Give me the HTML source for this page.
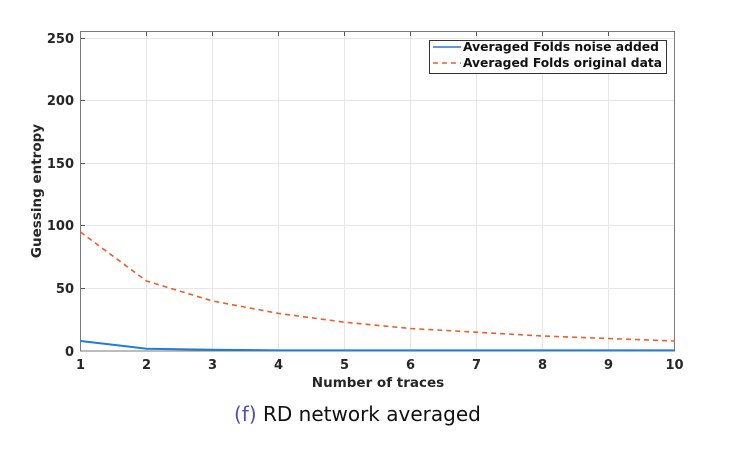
<!DOCTYPE html>
<html><head><meta charset="utf-8"><style>
html,body{margin:0;padding:0;background:#fff;}
svg{display:block;}
</style></head><body>
<svg width="729" height="455" xmlns="http://www.w3.org/2000/svg" font-family="'DejaVu Sans','Liberation Sans',sans-serif">
<rect width="729" height="455" fill="#fff"/>
<g stroke="#e6e6e6" stroke-width="1">
<line x1="146.5" y1="31" x2="146.5" y2="351"/><line x1="212.5" y1="31" x2="212.5" y2="351"/>
<line x1="278.5" y1="31" x2="278.5" y2="351"/><line x1="344.5" y1="31" x2="344.5" y2="351"/>
<line x1="410.5" y1="31" x2="410.5" y2="351"/><line x1="476.5" y1="31" x2="476.5" y2="351"/>
<line x1="542.5" y1="31" x2="542.5" y2="351"/><line x1="608.5" y1="31" x2="608.5" y2="351"/>
<line x1="80.5" y1="38.5" x2="675" y2="38.5"/><line x1="80.5" y1="100.5" x2="675" y2="100.5"/>
<line x1="80.5" y1="163.5" x2="675" y2="163.5"/><line x1="80.5" y1="225.5" x2="675" y2="225.5"/>
<line x1="80.5" y1="288.5" x2="675" y2="288.5"/>
</g>
<g stroke="#555" stroke-width="1">
<line x1="146.5" y1="31" x2="146.5" y2="36"/><line x1="212.5" y1="31" x2="212.5" y2="36"/>
<line x1="278.5" y1="31" x2="278.5" y2="36"/><line x1="344.5" y1="31" x2="344.5" y2="36"/>
<line x1="410.5" y1="31" x2="410.5" y2="36"/><line x1="476.5" y1="31" x2="476.5" y2="36"/>
<line x1="542.5" y1="31" x2="542.5" y2="36"/><line x1="608.5" y1="31" x2="608.5" y2="36"/>
<line x1="80.5" y1="38.5" x2="85" y2="38.5"/><line x1="80.5" y1="100.5" x2="85" y2="100.5"/>
<line x1="80.5" y1="163.5" x2="85" y2="163.5"/><line x1="80.5" y1="225.5" x2="85" y2="225.5"/>
<line x1="80.5" y1="288.5" x2="85" y2="288.5"/>
</g>
<rect x="80.5" y="31.5" width="594" height="319.5" fill="none" stroke="#7a7a7a" stroke-width="1"/>
<polyline fill="none" stroke="#e8602c" stroke-width="1.6" stroke-dasharray="5,4" points="80.5,232 146.5,281 212.5,301 278.5,313.4 344.5,322.2 410.5,328.5 476.5,332.2 542.5,336 608.5,338.5 674.5,341"/>
<polyline fill="none" stroke="#1f7fcf" stroke-width="2" points="80.5,341 146.5,348.7 212.5,349.7 278.5,350.4 674.5,350.4"/>
<g font-size="13" font-weight="bold" fill="#262626" text-anchor="end">
<text x="74" y="43">250</text><text x="74" y="105">200</text><text x="74" y="168">150</text>
<text x="74" y="230">100</text><text x="74" y="293">50</text><text x="74" y="356">0</text>
</g>
<g font-size="13" font-weight="bold" fill="#262626" text-anchor="middle">
<text x="80.5" y="369">1</text><text x="146.5" y="369">2</text><text x="212.5" y="369">3</text>
<text x="278.5" y="369">4</text><text x="344.5" y="369">5</text><text x="410.5" y="369">6</text>
<text x="476.5" y="369">7</text><text x="542.5" y="369">8</text><text x="608.5" y="369">9</text>
<text x="674.5" y="369">10</text>
<text x="378" y="387" font-size="13.5">Number of traces</text>
<text transform="translate(41,191) rotate(-90)" font-size="13.5">Guessing entropy</text>
</g>
<rect x="429.5" y="40.5" width="237" height="33" fill="#fff" stroke="#333" stroke-width="1"/>
<line x1="433" y1="47" x2="461" y2="47" stroke="#1f7fcf" stroke-width="1.6"/>
<line x1="433" y1="63" x2="461" y2="63" stroke="#e8602c" stroke-width="1.6" stroke-dasharray="5,4"/>
<g font-size="12" font-weight="bold" fill="#111">
<text x="463" y="51" textLength="196" lengthAdjust="spacingAndGlyphs">Averaged Folds noise added</text>
<text x="463" y="67" textLength="199" lengthAdjust="spacingAndGlyphs">Averaged Folds original data</text>
</g>
<text x="234" y="421" font-size="20" fill="#111"><tspan fill="#5050b0">(f)</tspan> RD network averaged</text>
</svg>
</body></html>
